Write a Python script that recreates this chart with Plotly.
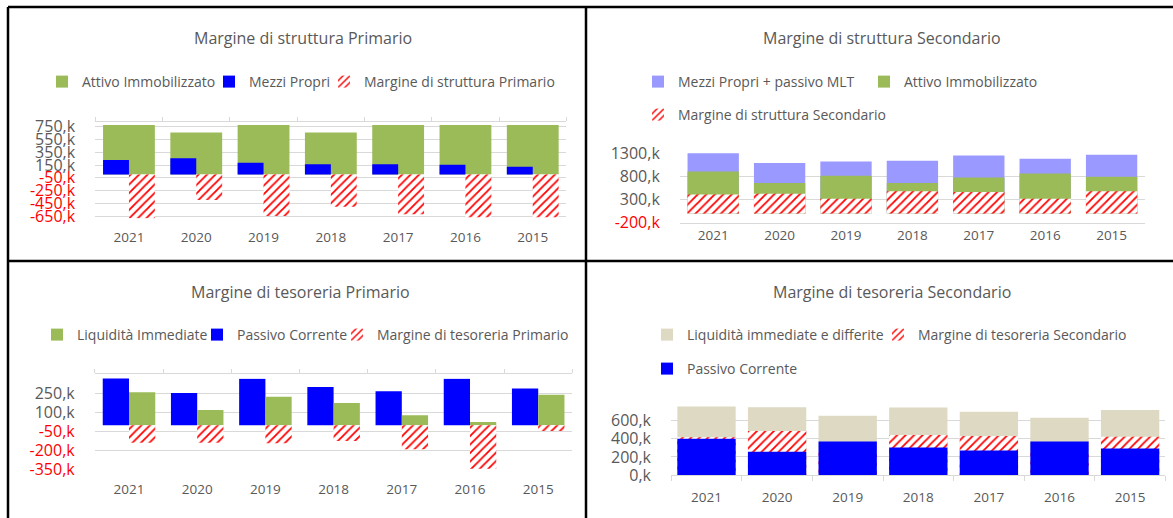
import plotly.graph_objects as go

W, H = 1173, 518

years = ["2021", "2020", "2019", "2018", "2017", "2016", "2015"]

# Margine di struttura (values in thousands)
attivo_immobilizzato = [908, 659, 815, 659, 779, 865, 794]
mezzi_propri = [228, 255, 186, 161, 161, 155, 124]
margine_struttura_primario = [-684, -397, -648, -502, -622, -668, -668]
mezzi_propri_mlt = [1302, 1088, 1123, 1137, 1251, 1180, 1266]
margine_struttura_secondario = [408, 423, 315, 479, 465, 315, 479]

# Margine di tesoreria (values in thousands)
liquidita_immediate = [262, 122, 228, 177, 79, 26, 243]
passivo_corrente = [400, 257, 370, 305, 271, 370, 293]
margine_tesoreria_primario = [-139, -139, -144, -126, -192, -346, -46]
liquidita_imm_diff = [815, 748, 655, 746, 700, 633, 718]
margine_tesoreria_secondario = [417, 486, 287, 442, 431, 265, 424]

ticks_p1 = [-650, -450, -250, -50, 150, 350, 550, 750]
ticks_p2 = [-200, 300, 800, 1300]
ticks_p3 = [-350, -200, -50, 100, 250]
ticks_p4 = [0, 200, 400, 600]

GREEN = "#9BBB59"
BLUE = "#0000FF"
PURPLE = "#9999FF"
BEIGE = "#DDD9C3"
RED = "#FF0000"
GRID = "#D9D9D9"
TXT = "#595959"
FONT = "Open Sans"


def px(x):
    return x / W


def py(y):
    return 1 - y / H


def tick_text(vals):
    out = []
    for v in vals:
        s = f"{v},k"
        if v < 0:
            s = f"<span style='color:{RED}'>{s}</span>"
        out.append(s)
    return out


hatch = dict(shape="/", fgcolor=RED, bgcolor="white", size=6, solidity=0.3)

fig = go.Figure()


def bar(name, vals, color, xa, ya, width, offset, legend, pattern=None):
    marker = dict(color=color, line=dict(width=0))
    if pattern:
        marker["pattern"] = pattern
    fig.add_trace(go.Bar(
        x=years, y=vals, name=name, marker=marker, width=width, offset=offset,
        xaxis=xa, yaxis=ya, legend=legend, hoverinfo="x+y+name"))


# Panel 1
bar("Attivo Immobilizzato", attivo_immobilizzato, GREEN, "x", "y", 0.77, -0.385, "legend")
bar("Mezzi Propri", mezzi_propri, BLUE, "x", "y", 0.385, -0.385, "legend2")
bar("Margine di struttura Primario", margine_struttura_primario, "white", "x", "y", 0.385, 0, "legend3", hatch)
# Panel 2
bar("Mezzi Propri + passivo MLT", mezzi_propri_mlt, PURPLE, "x2", "y2", 0.773, -0.3865, "legend4")
bar("Attivo Immobilizzato", attivo_immobilizzato, GREEN, "x2", "y2", 0.773, -0.3865, "legend5")
bar("Margine di struttura Secondario", margine_struttura_secondario, "white", "x2", "y2", 0.773, -0.3865, "legend6", hatch)
# Panel 3
bar("Passivo Corrente", passivo_corrente, BLUE, "x3", "y3", 0.385, -0.385, "legend8")
bar("Liquidità Immediate", liquidita_immediate, GREEN, "x3", "y3", 0.385, 0, "legend7")
bar("Margine di tesoreria Primario", margine_tesoreria_primario, "white", "x3", "y3", 0.385, 0, "legend9", hatch)
# Panel 4
bar("Liquidità immediate e differite", liquidita_imm_diff, BEIGE, "x4", "y4", 0.826, -0.413, "legend10")
bar("Margine di tesoreria Secondario", margine_tesoreria_secondario, "white", "x4", "y4", 0.826, -0.413, "legend11", hatch)
bar("Passivo Corrente", passivo_corrente, BLUE, "x4", "y4", 0.826, -0.413, "legend12")

panels = {
    # name: (x0, x1, ytop, ybottom, yrange, ticks, label ticklen)
    "1": (95.3, 566.4, 125.0, 218.5, [-687, 776], ticks_p1, 6),
    "2": (680.0, 1144.8, 152.8, 222.7, [-200, 1310], ticks_p2, 0.5),
    "3": (94.9, 572.3, 378.5, 469.5, [-352.5, 372.5], ticks_p3, 7.5),
    "4": (671.2, 1165.4, 406.5, 475.0, [0, 757], ticks_p4, 10),
}

layout = dict(
    template="none",
    width=W, height=H, margin=dict(l=0, r=0, t=0, b=0, pad=0, autoexpand=False),
    paper_bgcolor="white", plot_bgcolor="white",
    barmode="overlay", showlegend=True,
    font=dict(family=FONT, color=TXT),
)

for k, (x0, x1, yt, yb, yr, tv, tl) in panels.items():
    sfx = "" if k == "1" else k
    layout["xaxis" + sfx] = dict(
        domain=[px(x0), px(x1)], anchor="y" + sfx, type="category",
        categoryorder="array", categoryarray=years, range=[-0.5, 6.5],
        showgrid=False, zeroline=False, showline=(k == "2"), linecolor=GRID,
        linewidth=1, automargin=False,
        ticks="outside", ticklen=tl, tickcolor="rgba(0,0,0,0)",
        tickfont=dict(size=13.5, color=TXT, family=FONT), fixedrange=True)
    layout["yaxis" + sfx] = dict(
        domain=[py(yb), py(yt)], anchor="x" + sfx, range=yr, automargin=False,
        tickvals=tv, ticktext=tick_text(tv), showgrid=True, gridcolor=GRID,
        gridwidth=1, zeroline=False, showline=False,
        ticks="outside", ticklen=16, tickcolor="rgba(0,0,0,0)",
        tickfont=dict(size=16, color=TXT, family=FONT), fixedrange=True)

boundaries = [i - 0.5 for i in range(8)]
frame_axis = dict(range=[-0.5, 6.5], tickvals=boundaries, showticklabels=False,
                  showgrid=False, zeroline=False, showline=True, linecolor=GRID,
                  linewidth=1, automargin=False,
                  ticks="outside", tickcolor=GRID, tickwidth=1, fixedrange=True)
layout["xaxis5"] = dict(frame_axis, overlaying="x", anchor="free",
                        position=py(121), side="top", ticklen=4)
layout["xaxis6"] = dict(frame_axis, overlaying="x3", anchor="free",
                        position=py(373.3), side="top", ticklen=4)
layout["xaxis7"] = dict(frame_axis, overlaying="x4", anchor="y4",
                        side="bottom", ticklen=5)

legend_pos = {
    "legend": (78, 82), "legend2": (245, 82), "legend3": (360, 82),
    "legend4": (674, 82), "legend5": (900, 82), "legend6": (674, 115),
    "legend7": (73, 335), "legend8": (233, 335), "legend9": (373, 335),
    "legend10": (683, 335), "legend11": (914, 335), "legend12": (683, 369),
}
for name, (tx, ty) in legend_pos.items():
    layout[name] = dict(x=px(tx - 36), y=py(ty), xanchor="left", yanchor="middle",
                        orientation="h", bgcolor="rgba(0,0,0,0)", borderwidth=0,
                        font=dict(size=14, color=TXT, family=FONT))

fig.update_layout(**layout)

# Invisible traces on overlay axes so they render
for xa, ya in (("x5", "y"), ("x6", "y3"), ("x7", "y4")):
    fig.add_trace(go.Scatter(x=[None], y=[None], xaxis=xa, yaxis=ya,
                             showlegend=False, hoverinfo="skip"))

titles = [
    ("Margine di struttura Primario", 303, 38),
    ("Margine di struttura Secondario", 882, 38),
    ("Margine di tesoreria Primario", 300, 292),
    ("Margine di tesoreria Secondario", 892, 292),
]
for t, tx, ty in titles:
    fig.add_annotation(text=t, x=px(tx), y=py(ty), xref="paper", yref="paper",
                       xanchor="center", yanchor="middle", showarrow=False,
                       font=dict(size=16, color=TXT, family=FONT))

border = dict(color="black", width=2.5)
for (xa, ya, xb, yb) in [(8, 7, W, 7), (8, 7, 8, H), (586, 7, 586, H), (8, 261, W, 261)]:
    fig.add_shape(type="line", xref="paper", yref="paper",
                  x0=px(xa), y0=py(ya), x1=px(xb), y1=py(yb), line=border)

fig.write_html("out.html", config={"displayModeBar": False},
               post_script="document.body.style.margin='0';document.body.style.overflow='hidden';")
